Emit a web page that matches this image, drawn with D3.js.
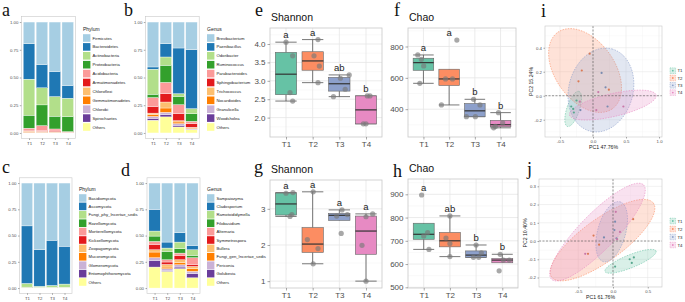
<!DOCTYPE html>
<html>
<head>
<meta charset="utf-8">
<script src="https://cdn.jsdelivr.net/npm/d3@7"></script>
<style>
  body { margin: 0; background: #fff; }
  text { font-family: "Liberation Sans", Arial, sans-serif; }
</style>
</head>
<body>
<div id="container"></div>
<script>
/* CONSTANTS AND GLOBALS */
const width = 685, height = 302;
const groups = ["T1", "T2", "T3", "T4"];
const paired = d3.schemePaired.slice(0, 11);
const set2 = ["#66C2A5", "#FC8D62", "#8DA0CB", "#E78AC3"];

/* DATA */
// stacked relative abundance, one row per group (T1..T4)
const bacPhylumNames = ["Firmicutes", "Bacteroidetes", "Actinobacteria", "Proteobacteria", "Acidobacteria",
  "Armatimonadetes", "Chloroflexi", "Gemmatimonadetes", "Chlorobi", "Spirochaetes", "Others"];
const bacPhylumShares = [
  [0.195, 0.320, 0.325, 0.117, 0.018, 0.008, 0.006, 0.006, 0.002, 0.001, 0.002],
  [0.383, 0.210, 0.154, 0.187, 0.045, 0.006, 0.005, 0.004, 0.002, 0.001, 0.003],
  [0.446, 0.226, 0.177, 0.115, 0.018, 0.006, 0.004, 0.003, 0.002, 0.001, 0.002],
  [0.572, 0.115, 0.165, 0.136, 0.005, 0.002, 0.002, 0.001, 0.001, 0.0005, 0.0005]
];
const bacGenusNames = ["Brevibacterium", "Paenibacillus", "Odoribacter", "Ruminococcus", "Parabacteroides",
  "Sphingobacterium", "Trichococcus", "Nocardioides", "Granulicella", "Woodsholea", "Others"];
const bacGenusShares = [
  [0.405, 0.020, 0.226, 0.030, 0.080, 0.060, 0.012, 0.018, 0.018, 0.016, 0.115],
  [0.195, 0.120, 0.075, 0.154, 0.102, 0.075, 0.054, 0.039, 0.021, 0.020, 0.145],
  [0.234, 0.412, 0.024, 0.075, 0.081, 0.063, 0.012, 0.015, 0.015, 0.015, 0.054],
  [0.250, 0.531, 0.045, 0.069, 0.021, 0.033, 0.006, 0.006, 0.006, 0.003, 0.030]
];
const funPhylumNames = ["Basidiomycota", "Ascomycota", "Fungi_phy_Incertae_sedis", "Rozellomycota", "Mortierellomycota",
  "Kickxellomycota", "Zoopagomycota", "Mucoromycota", "Glomeromycota", "Entomophthoromycota", "Others"];
const funPhylumShares = [
  [0.408, 0.548, 0.035, 0.002, 0.002, 0.001, 0.001, 0.001, 0.0005, 0.0005, 0.001],
  [0.633, 0.350, 0.010, 0.001, 0.001, 0.001, 0.001, 0.001, 0.0005, 0.0005, 0.001],
  [0.545, 0.430, 0.018, 0.001, 0.001, 0.001, 0.001, 0.001, 0.001, 0.0005, 0.0005],
  [0.602, 0.360, 0.030, 0.001, 0.001, 0.001, 0.001, 0.001, 0.001, 0.001, 0.001]
];
const funGenusNames = ["Sampaiozyma", "Cladosporium", "Ramotoididymella", "Filobasidium", "Alternaria",
  "Symmetrospora", "Bullera", "Fungi_gen_Incertae_sedis", "Periconia", "Golubevia", "Others"];
const funGenusShares = [
  [0.251, 0.206, 0.048, 0.051, 0.028, 0.051, 0.022, 0.054, 0.026, 0.063, 0.200],
  [0.562, 0.057, 0.032, 0.079, 0.022, 0.023, 0.025, 0.016, 0.016, 0.009, 0.159],
  [0.473, 0.089, 0.063, 0.042, 0.022, 0.041, 0.029, 0.019, 0.022, 0.016, 0.184],
  [0.594, 0.041, 0.054, 0.022, 0.064, 0.019, 0.022, 0.025, 0.022, 0.039, 0.098]
];

// alpha diversity, four samples per group, with small horizontal jitter (in category steps)
const shannonBac = [[4.05, 3.68, 2.68, 2.45], [4.12, 3.68, 3.40, 2.95], [3.16, 3.07, 2.77, 2.57], [2.59, 2.59, 1.83, 1.83]];
const shannonBacJit = [[0, 0.25, 0.15, 0.25], [0.2, 0.05, 0.25, 0.2], [0.37, 0.04, 0.22, -0.22], [0.05, 0.15, -0.1, 0]];
const shannonBacLetters = ["a", "a", "ab", "b"];
const chaoBac = [[746, 718, 676, 565], [841, 593, 593, 427], [463, 427, 352, 352], [378, 312, 290, 281]];
const chaoBacJit = [[-0.22, -0.08, 0.01, -0.14], [0.3, -0.14, 0.13, -0.3], [-0.05, 0.2, -0.33, 0.02], [-0.08, 0.08, -0.2, -0.27]];
const chaoBacLetters = ["a", "a", "b", "b"];
const shannonFun = [[3.45, 3.43, 2.84, 2.79], [3.47, 2.15, 1.90, 1.48], [2.97, 2.84, 2.80, 2.32], [2.86, 2.78, 1.99, 1.00]];
const shannonFunJit = [[0.26, 0, 0.22, 0.15], [0.02, -0.2, 0.2, 0.02], [0.1, 0.3, -0.1, 0.07], [0.25, 0, -0.15, 0]];
const shannonFunLetters = ["a", "a", "a", "a"];
const chaoFun = [[897, 735, 721, 663], [807, 712, 688, 632], [682, 648, 629, 629], [642, 617, 617, 571]];
const chaoFunJit = [[-0.08, 0.15, 0, 0.2], [0, -0.15, 0, 0], [0, 0.2, -0.1, 0.1], [-0.08, 0.04, 0.27, -0.12]];
const chaoFunLetters = ["a", "ab", "b", "b"];

// PCoA sample scores [PC1, PC2] per group
const pcoaBac = [
  [[-0.25, -0.04], [-0.33, -0.09], [-0.29, -0.14], [-0.30, -0.11]],
  [[-0.05, 0.35], [-0.17, 0.21], [-0.22, 0.12], [0.24, 0.05]],
  [[0.13, 0.19], [0.19, 0.07], [0.22, -0.09], [-0.19, -0.12]],
  [[0.08, 0.03], [0.46, -0.09], [-0.20, -0.05], [0.05, -0.12]]
];
// confidence ellipses: centre, major half-axis vector, minor half-axis vector (data units)
const pcoaBacEllipses = [
  [[-0.30, -0.11], [0.088, 0.146], [0.091, -0.0167]],
  [[-0.12, 0.21], [0.41, -0.32], [-0.37, -0.14]],
  [[0.12, 0.0475], [0.167, 0.3425], [0.47, -0.07]],
  [[0.30, -0.078], [0.656, 0.083], [0.039, -0.093]]
];
const pcoaFun = [
  [[0.03, -0.14], [0.24, -0.10], [0.30, -0.09], [0.27, -0.12]],
  [[-0.28, 0.03], [-0.36, -0.07], [-0.20, -0.02], [0.29, 0.12]],
  [[-0.13, 0.02], [0.03, 0.106], [0.05, 0.015], [0.02, 0.06]],
  [[0.04, 0.16], [0.10, 0.05], [-0.40, -0.07], [0.06, 0.01]]
];
const pcoaFunEllipses = [
  [[0.252, -0.111], [0.367, 0.0564], [0.0345, -0.0329]],
  [[-0.151, 0.005], [0.732, 0.203], [0.178, -0.093]],
  [[-0.019, 0.051], [0.119, 0.164], [0.194, -0.020]],
  [[-0.223, 0.049], [0.662, 0.259], [0.186, -0.069]]
];

/* SVG */
const svg = d3.select("#container").append("svg")
  .attr("width", width).attr("height", height);

function panelLetter(t, x, y) {
  svg.append("text").attr("x", x).attr("y", y)
    .style("font-family", "'Liberation Serif', 'Times New Roman', serif")
    .attr("font-size", 18).attr("fill", "#111").text(t);
}

function styleAxis(ax, size) {
  ax.select(".domain").remove();
  ax.selectAll(".tick line").attr("stroke", "#555").attr("stroke-width", 0.5);
  ax.selectAll(".tick text").attr("fill", "#4d4d4d").attr("font-size", size)
    .style("font-family", "'Liberation Sans', Arial, sans-serif");
}

/* STACKED BARS */
function stackPanel(o) {
  const x = d3.scalePoint().domain(groups).range([o.left, o.right]).padding(0.6);
  const y = d3.scaleLinear().domain([-0.05, 1.05]).range([o.bottom, o.top]);
  const color = d3.scaleOrdinal().domain(o.names).range(paired);

  const rows = groups.map((t, i) => {
    const r = { group: t };
    o.names.forEach((n, k) => r[n] = o.shares[i][k]);
    return r;
  });
  const series = d3.stack().keys(o.names.slice().reverse())(rows);
  const bw = x.step() * 0.9;

  svg.append("g").selectAll("g").data(series).join("g")
    .attr("fill", d => color(d.key))
    .selectAll("rect").data(d => d).join("rect")
    .attr("x", d => x(d.data.group) - bw / 2)
    .attr("width", bw)
    .attr("y", d => y(d[1]))
    .attr("height", d => Math.max(0, y(d[0]) - y(d[1])))
    .attr("stroke", "#fff").attr("stroke-width", 0.35);

  svg.append("rect").attr("x", o.left).attr("y", o.top)
    .attr("width", o.right - o.left).attr("height", o.bottom - o.top)
    .attr("fill", "none").attr("stroke", "#c8c8c8").attr("stroke-width", 0.6);

  const ya = svg.append("g").attr("transform", `translate(${o.left},0)`)
    .call(d3.axisLeft(y).tickValues([0, 0.25, 0.5, 0.75, 1]).tickFormat(d3.format(".2f")).tickSize(1.5).tickPadding(1.5));
  styleAxis(ya, 4.3);
  const xa = svg.append("g").attr("transform", `translate(0,${o.bottom})`)
    .call(d3.axisBottom(x).tickSize(1.5).tickPadding(2));
  styleAxis(xa, 4.3);

  // legend
  svg.append("text").attr("x", o.legX).attr("y", o.legY - 7).attr("font-size", 5).attr("fill", "#222").text(o.title);
  const leg = svg.append("g").selectAll("g").data(o.names).join("g")
    .attr("transform", (d, i) => `translate(${o.legX},${o.legY + i * o.legStep})`);
  leg.append("rect").attr("x", 0).attr("y", -3.8).attr("width", 7.4).attr("height", 7.6)
    .attr("fill", d => color(d));
  leg.append("text").attr("x", 9.5).attr("y", 1.5).attr("font-size", 4.2).attr("fill", "#222").text(d => d);
}

/* BOX PLOTS */
function boxPanel(o) {
  const x = d3.scalePoint().domain(groups).range([o.left, o.right]).padding(0.6);
  const y = d3.scaleLinear().domain(o.yDomain).range([o.bottom, o.top]);
  const ticks = o.ticks;
  const half = (ticks[1] - ticks[0]) / 2;
  const minor = [ticks[0] - half, ...ticks.map(t => t + half)].filter(t => t > o.yDomain[0] && t < o.yDomain[1]);

  const grid = svg.append("g");
  grid.selectAll("line.mn").data(minor).join("line").attr("class", "mn")
    .attr("x1", o.left).attr("x2", o.right).attr("y1", d => y(d)).attr("y2", d => y(d))
    .attr("stroke", "#f3f3f3").attr("stroke-width", 0.5);
  grid.selectAll("line.mj").data(ticks).join("line").attr("class", "mj")
    .attr("x1", o.left).attr("x2", o.right).attr("y1", d => y(d)).attr("y2", d => y(d))
    .attr("stroke", "#e6e6e6").attr("stroke-width", 0.8);
  grid.selectAll("line.vx").data(groups).join("line").attr("class", "vx")
    .attr("x1", d => x(d)).attr("x2", d => x(d)).attr("y1", o.top).attr("y2", o.bottom)
    .attr("stroke", "#e6e6e6").attr("stroke-width", 0.8);

  const bw = x.step() * 0.8;
  const stats = o.values.map((vals, i) => {
    const s = vals.slice().sort(d3.ascending);
    const q1 = d3.quantile(s, 0.25), med = d3.quantile(s, 0.5), q3 = d3.quantile(s, 0.75);
    const iqr = q3 - q1;
    const inside = s.filter(v => v >= q1 - 1.5 * iqr && v <= q3 + 1.5 * iqr);
    return { g: groups[i], q1, med, q3, lo: d3.min(inside), hi: d3.max(inside), max: d3.max(s) };
  });

  const bx = svg.append("g");
  stats.forEach((s, i) => {
    const cx = x(s.g);
    // whiskers and caps
    [[s.lo, s.q1], [s.q3, s.hi]].forEach(([a, b]) => {
      bx.append("line").attr("x1", cx).attr("x2", cx).attr("y1", y(a)).attr("y2", y(b))
        .attr("stroke", "#555").attr("stroke-width", 0.8);
    });
    [s.lo, s.hi].forEach(v => {
      bx.append("line").attr("x1", cx - bw / 2).attr("x2", cx + bw / 2).attr("y1", y(v)).attr("y2", y(v))
        .attr("stroke", "#555").attr("stroke-width", 0.8);
    });
    bx.append("rect").attr("x", cx - bw / 2).attr("width", bw)
      .attr("y", y(s.q3)).attr("height", y(s.q1) - y(s.q3))
      .attr("fill", set2[i]).attr("stroke", "#666").attr("stroke-width", 0.6);
    bx.append("line").attr("x1", cx - bw / 2).attr("x2", cx + bw / 2).attr("y1", y(s.med)).attr("y2", y(s.med))
      .attr("stroke", "#333").attr("stroke-width", 1.2);
    bx.append("text").attr("x", cx).attr("y", y(s.max) - 4).attr("text-anchor", "middle")
      .attr("font-size", 9.5).attr("fill", "#222").text(o.letters[i]);
  });

  // sample points
  const pts = o.values.flatMap((vals, i) => vals.map((v, k) => ({ g: groups[i], v, j: o.jitter[i][k] })));
  svg.append("g").selectAll("circle").data(pts).join("circle")
    .attr("cx", d => x(d.g) + d.j * x.step()).attr("cy", d => y(d.v)).attr("r", 2.6)
    .attr("fill", "#7a7a7a").attr("fill-opacity", 0.65);

  svg.append("rect").attr("x", o.left).attr("y", o.top)
    .attr("width", o.right - o.left).attr("height", o.bottom - o.top)
    .attr("fill", "none").attr("stroke", "#c8c8c8").attr("stroke-width", 0.8);

  const ya = svg.append("g").attr("transform", `translate(${o.left},0)`)
    .call(d3.axisLeft(y).tickValues(ticks).tickFormat(o.fmt).tickSize(2.5).tickPadding(2));
  styleAxis(ya, 8);
  const xa = svg.append("g").attr("transform", `translate(0,${o.bottom})`)
    .call(d3.axisBottom(x).tickSize(2.5).tickPadding(2));
  styleAxis(xa, 8);

  svg.append("text").attr("x", o.left + 1).attr("y", o.top - 7).attr("font-size", 10.5).attr("fill", "#111").text(o.title);
}

/* PCOA */
function pcoaPanel(o) {
  const x = d3.scaleLinear().domain(o.xDomain).range([o.left, o.right]);
  const y = d3.scaleLinear().domain(o.yDomain).range([o.bottom, o.top]);
  const fmt = v => d3.format(".1f")(v).replace("−", "-");

  const xh = (o.xTicks[1] - o.xTicks[0]) / 2, yh = (o.yTicks[1] - o.yTicks[0]) / 2;
  const xMinor = [o.xTicks[0] - xh, ...o.xTicks.map(t => t + xh)].filter(t => t > o.xDomain[0] && t < o.xDomain[1]);
  const yMinor = [o.yTicks[0] - yh, ...o.yTicks.map(t => t + yh)].filter(t => t > o.yDomain[0] && t < o.yDomain[1]);

  const grid = svg.append("g");
  grid.selectAll("line.ym").data(yMinor).join("line").attr("x1", o.left).attr("x2", o.right)
    .attr("y1", d => y(d)).attr("y2", d => y(d)).attr("stroke", "#f3f3f3").attr("stroke-width", 0.4);
  grid.selectAll("line.xm").data(xMinor).join("line").attr("y1", o.top).attr("y2", o.bottom)
    .attr("x1", d => x(d)).attr("x2", d => x(d)).attr("stroke", "#f3f3f3").attr("stroke-width", 0.4);
  grid.selectAll("line.yM").data(o.yTicks).join("line").attr("x1", o.left).attr("x2", o.right)
    .attr("y1", d => y(d)).attr("y2", d => y(d)).attr("stroke", "#e8e8e8").attr("stroke-width", 0.6);
  grid.selectAll("line.xM").data(o.xTicks).join("line").attr("y1", o.top).attr("y2", o.bottom)
    .attr("x1", d => x(d)).attr("x2", d => x(d)).attr("stroke", "#e8e8e8").attr("stroke-width", 0.6);

  // ellipses
  const line = d3.line().curve(d3.curveLinearClosed);
  svg.append("g").selectAll("path").data(o.ellipses).join("path")
    .attr("d", e => {
      const [c, u, v] = e;
      const pts = d3.range(0, 72).map(k => {
        const t = k / 72 * 2 * Math.PI;
        return [x(c[0] + u[0] * Math.cos(t) + v[0] * Math.sin(t)), y(c[1] + u[1] * Math.cos(t) + v[1] * Math.sin(t))];
      });
      return line(pts);
    })
    .attr("fill", (d, i) => set2[i]).attr("fill-opacity", 0.25)
    .attr("stroke", (d, i) => set2[i]).attr("stroke-width", 0.6).attr("stroke-dasharray", "1.5,1.2");

  // zero lines
  svg.append("line").attr("x1", x(0)).attr("x2", x(0)).attr("y1", o.top).attr("y2", o.bottom)
    .attr("stroke", "#555").attr("stroke-width", 0.6).attr("stroke-dasharray", "2,1.5");
  svg.append("line").attr("x1", o.left).attr("x2", o.right).attr("y1", y(0)).attr("y2", y(0))
    .attr("stroke", "#555").attr("stroke-width", 0.6).attr("stroke-dasharray", "2,1.5");

  const pts = o.points.flatMap((g, i) => g.map(p => ({ i, p })));
  svg.append("g").selectAll("circle").data(pts).join("circle")
    .attr("cx", d => x(d.p[0])).attr("cy", d => y(d.p[1])).attr("r", 1.1)
    .attr("fill", d => d3.color(set2[d.i]).darker(0.4));

  svg.append("rect").attr("x", o.left).attr("y", o.top)
    .attr("width", o.right - o.left).attr("height", o.bottom - o.top)
    .attr("fill", "none").attr("stroke", "#c8c8c8").attr("stroke-width", 0.6);

  const ya = svg.append("g").attr("transform", `translate(${o.left},0)`)
    .call(d3.axisLeft(y).tickValues(o.yTicks).tickFormat(fmt).tickSize(1.5).tickPadding(1.5));
  styleAxis(ya, 4.3);
  const xa = svg.append("g").attr("transform", `translate(0,${o.bottom})`)
    .call(d3.axisBottom(x).tickValues(o.xTicks).tickFormat(fmt).tickSize(1.5).tickPadding(1.5));
  styleAxis(xa, 4.3);

  svg.append("text").attr("x", (o.left + o.right) / 2).attr("y", o.bottom + 11.5)
    .attr("text-anchor", "middle").attr("font-size", 5.2).attr("fill", "#222").text(o.xTitle);
  svg.append("text").attr("transform", `translate(${o.left - 12},${(o.top + o.bottom) / 2}) rotate(-90)`)
    .attr("text-anchor", "middle").attr("font-size", 5.2).attr("fill", "#222").text(o.yTitle);

  const leg = svg.append("g").selectAll("g").data(groups).join("g")
    .attr("transform", (d, i) => `translate(${o.legX},${o.legY + i * o.legStep})`);
  leg.append("rect").attr("x", 0).attr("y", -2.8).attr("width", 5.6).attr("height", 5.6)
    .attr("fill", (d, i) => set2[i]).attr("fill-opacity", 0.25)
    .attr("stroke", (d, i) => set2[i]).attr("stroke-width", 0.5).attr("stroke-dasharray", "1,0.8");
  leg.append("circle").attr("cx", 2.8).attr("cy", 0).attr("r", 0.9).attr("fill", (d, i) => set2[i]);
  leg.append("text").attr("x", 7.5).attr("y", 1.6).attr("font-size", 4.3).attr("fill", "#222").text(d => d);
}

/* DRAW */
stackPanel({ left: 21.3, right: 75.5, top: 16.5, bottom: 138.5, names: bacPhylumNames, shares: bacPhylumShares,
  title: "Phylum", legX: 83, legY: 38, legStep: 8.9 });
stackPanel({ left: 145.3, right: 199.2, top: 16.5, bottom: 138.5, names: bacGenusNames, shares: bacGenusShares,
  title: "Genus", legX: 207, legY: 38, legStep: 8.9 });
stackPanel({ left: 19.5, right: 72, top: 177.8, bottom: 293.3, names: funPhylumNames, shares: funPhylumShares,
  title: "Phylum", legX: 79, legY: 198, legStep: 8.4 });
stackPanel({ left: 147, right: 200, top: 177.8, bottom: 293.3, names: funGenusNames, shares: funGenusShares,
  title: "Genus", legX: 207, legY: 198, legStep: 8.4 });

boxPanel({ left: 270, right: 382, top: 28, bottom: 137, yDomain: [1.473, 4.435], ticks: [2, 2.5, 3, 3.5, 4],
  fmt: d3.format(".1f"), values: shannonBac, jitter: shannonBacJit, letters: shannonBacLetters, title: "Shannon" });
boxPanel({ left: 408, right: 516, top: 28, bottom: 137, yDomain: [222.5, 918], ticks: [400, 600, 800],
  fmt: d3.format("d"), values: chaoBac, jitter: chaoBacJit, letters: chaoBacLetters, title: "Chao" });
boxPanel({ left: 270, right: 382, top: 180, bottom: 288, yDomain: [0.81, 3.797], ticks: [1, 2, 3],
  fmt: d3.format("d"), values: shannonFun, jitter: shannonFunJit, letters: shannonFunLetters, title: "Shannon" });
boxPanel({ left: 408, right: 518, top: 179, bottom: 288, yDomain: [497, 965.8], ticks: [500, 600, 700, 800, 900],
  fmt: d3.format("d"), values: chaoFun, jitter: chaoFunJit, letters: chaoFunLetters, title: "Chao" });

pcoaPanel({ left: 545, right: 662, top: 26, bottom: 137, xDomain: [-0.727, 1.045], yDomain: [-0.344, 0.581],
  xTicks: [-0.5, 0, 0.5, 1.0], yTicks: [-0.2, 0, 0.2, 0.4], points: pcoaBac, ellipses: pcoaBacEllipses,
  xTitle: "PC1 47.76%", yTitle: "PC2 15.24%", legX: 670, legY: 70.7, legStep: 7.3 });
pcoaPanel({ left: 539, right: 662, top: 179, bottom: 287, xDomain: [-1.065, 0.705], yDomain: [-0.252, 0.340],
  xTicks: [-0.5, 0, 0.5], yTicks: [-0.2, -0.1, 0, 0.1, 0.2, 0.3], points: pcoaFun, ellipses: pcoaFunEllipses,
  xTitle: "PC1 61.76%", yTitle: "PC2 10.40%", legX: 670, legY: 221, legStep: 8 });

panelLetter("a", 2, 16);
panelLetter("b", 124, 16);
panelLetter("c", 2, 173);
panelLetter("d", 121, 176);
panelLetter("e", 255, 16);
panelLetter("f", 394, 16);
panelLetter("g", 254, 173);
panelLetter("h", 393, 177);
panelLetter("i", 541, 17);
panelLetter("j", 527, 175);
</script>
</body>
</html>
